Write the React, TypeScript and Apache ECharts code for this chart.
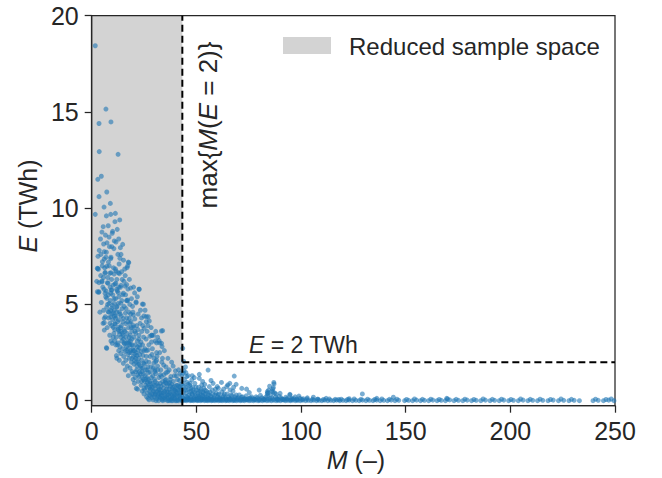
import React, { useEffect, useRef } from "react";
import * as echarts from "echarts";

// ---------- axis / tick values ----------
const xTicks = [0, 50, 100, 150, 200, 250];
const yTicks = [0, 5, 10, 15, 20];
const X_MIN = 0;
const X_MAX = 250;
const Y_MIN = -0.26;
const Y_MAX = 20;
const M_MAX = 43.3; // max{M(E = 2)}
const E_LEVEL = 2; // E = 2 TWh

// ---------- scatter data [M, E] ----------
const highE: number[][] = [
  [1.7, 18.44], [6.8, 15.15], [3.5, 14.4], [9.2, 14.48], [3.6, 12.94], [12.6, 12.8], [4.6, 11.66], [2.9, 11.5],
  [7.2, 10.84], [3.5, 10.6], [8.9, 10.25], [5.9, 10.06], [1.7, 9.68], [7.0, 9.6], [9.1, 9.68], [11.3, 9.73],
  [13.4, 9.39], [11.1, 9.3], [5.5, 9.04], [7.9, 9.09], [10.0, 8.8], [4.9, 8.76], [9.8, 8.7], [11.6, 8.24],
  [14.8, 8.12], [5.7, 8.14], [13.7, 7.95], [3.6, 7.81], [7.0, 7.71], [9.1, 7.38], [6.0, 7.36], [17.5, 7.2],
  [13.5, 7.4], [4.4, 7.6], [6.0, 7.74], [6.8, 7.45], [9.2, 7.45], [5.1, 7.22], [17.7, 7.17], [17.2, 7.0],
  [8.3, 8.5], [12.2, 8.9], [10.6, 7.9], [8.5, 8.0], [12.5, 7.6], [15.2, 7.3], [4.2, 8.4],
  [6.6, 8.6], [9.6, 8.0], [10.8, 8.3], [7.3, 8.2], [12.9, 8.4], [14.0, 7.6], [3.0, 7.5], [8.0, 7.2],
];

const midE: number[][] = [
  [7.2, 6.98], [2.7, 6.88], [16.9, 6.91], [11.3, 6.84], [15.8, 6.84], [2.9, 6.86], [6.4, 6.67], [9.2, 6.65],
  [11.6, 6.74], [13.2, 6.6], [6.4, 6.62], [8.7, 6.62], [10.7, 6.58], [12.7, 6.65], [4.9, 6.22], [7.5, 6.13],
  [11.1, 6.06], [13.7, 5.89], [15.9, 5.96], [18.6, 5.85], [22.7, 5.79], [3.5, 5.66], [9.6, 5.75], [7.2, 5.32],
  [10.7, 5.3], [17.2, 5.23], [21.2, 5.09], [24.2, 5.02], [12.7, 5.06], [4.9, 6.17], [7.8, 6.1], [11.5, 6.1],
  [14.0, 5.99], [16.7, 6.03], [5.9, 5.79], [9.4, 5.75], [11.9, 5.79], [3.3, 5.63], [6.4, 5.58], [9.1, 5.58],
  [12.7, 5.61], [15.1, 5.58], [6.7, 5.4], [8.3, 5.06], [10.7, 5.06], [13.9, 5.06], [17.0, 5.19], [21.2, 5.13],
  [7.2, 4.85], [9.6, 4.82], [11.9, 4.85], [14.5, 4.78], [16.4, 4.78], [7.9, 4.62], [10.3, 4.57], [13.2, 4.61],
  [19.9, 4.45], [6.5, 4.36], [9.1, 4.36], [11.3, 4.28], [15.1, 4.28], [18.0, 4.28], [6.0, 4.05], [8.7, 4.02],
  [11.1, 3.98], [18.3, 4.02], [23.1, 4.02], [27.5, 4.14], [10.3, 3.81], [12.7, 3.81], [19.9, 3.81], [25.1, 3.76],
  [5.4, 4.02], [26.1, 4.36], [33.3, 3.62], [27.0, 4.36], [24.7, 5.01], [22.6, 5.79], [17.3, 5.8], [3.2, 6.83],
  [2.7, 5.66], [3.5, 6.13], [6.0, 4.28], [6.0, 3.67], [33.9, 3.64], [26.1, 4.1],
  [8.9, 5.2], [9.9, 4.95], [10.8, 4.7], [11.6, 4.4], [12.1, 4.9], [12.9, 4.2], [13.6, 4.5], [14.2, 3.9],
  [14.9, 4.1], [15.6, 3.7], [16.3, 4.0], [16.9, 3.5], [17.6, 3.8], [18.4, 3.4], [19.1, 3.6], [20.2, 3.3],
  [21.0, 3.5], [21.8, 3.1], [22.6, 3.4], [23.5, 3.05], [13.0, 5.4], [14.4, 5.2], [15.5, 4.9], [16.1, 4.55],
  [17.8, 4.6], [18.8, 4.1], [19.5, 4.9], [20.6, 4.25], [21.5, 3.9], [22.2, 4.5], [23.9, 3.6], [24.8, 3.3],
  [26.0, 3.2], [27.8, 3.35], [28.6, 3.05], [29.5, 3.4], [30.4, 3.1], [31.5, 3.3], [32.4, 3.0], [9.5, 6.3],
  [10.2, 6.0], [8.0, 5.5], [12.2, 5.7], [14.6, 6.3], [16.2, 5.5], [19.0, 5.3], [20.5, 5.6], [7.4, 3.8],
  [8.6, 3.4], [9.2, 3.1], [10.6, 3.5], [11.8, 3.3], [12.5, 3.0], [13.3, 3.45], [5.7, 4.7], [4.6, 5.1],
  [3.9, 4.6], [8.1, 4.3], [23.8, 4.3], [25.5, 4.7], [28.4, 3.8], [30.6, 3.6],
  [14.0, 3.3], [14.7, 3.5], [15.2, 3.2], [15.8, 3.6], [17.9, 3.3], [19.2, 3.2], [11.0, 3.7], [13.0, 3.6],
  [9.5, 3.9], [8.2, 4.6], [10.0, 4.2], [12.0, 4.6], [14.1, 4.4], [16.7, 4.3], [18.6, 4.5], [20.0, 3.9],
  [22.0, 3.7], [24.4, 3.9], [26.5, 3.6], [10.3, 3.3],
  [6.2, 6.9], [7.7, 6.4], [8.4, 7.0], [10.4, 6.9], [12.0, 6.3], [13.1, 7.1], [14.3, 6.7], [15.4, 6.2],
  [5.3, 5.9], [6.9, 5.7], [8.8, 5.9], [10.1, 5.5], [11.4, 5.3], [12.9, 5.9], [14.8, 5.5], [16.6, 5.2],
  [18.2, 5.0], [19.7, 4.6], [7.6, 5.0], [9.0, 4.7], [10.9, 4.4], [12.4, 4.1], [13.8, 3.8], [15.0, 3.4],
  [9.7, 4.5], [11.2, 4.0], [12.6, 3.7], [14.0, 3.6], [17.1, 4.1], [18.9, 3.8], [20.7, 3.6], [22.5, 3.2],
  [4.3, 6.5], [5.0, 7.0], [2.4, 6.2], [5.6, 6.4], [16.0, 6.5], [18.0, 6.3], [20.0, 5.9], [21.8, 5.4],
  [23.3, 4.7], [25.0, 4.4], [26.8, 3.9], [28.7, 3.4], [31.0, 3.0], [24.3, 2.9],
];

const lowE: number[][] = [
  [7.0, 2.75], [9.8, 2.98], [33.6, 2.81], [32.2, 3.12], [26.9, 2.63], [22.1, 2.63], [34.4, 1.85], [30.1, 1.51],
  [21.3, 0.64], [25.3, 0.56], [26.9, 0.12], [29.3, 0.04], [33.4, 2.98], [31.2, 2.31], [7.2, 2.72], [11.8, 2.34],
  [15.1, 1.94], [19.3, 1.51], [30.6, 2.03], [35.8, 0.9], [42.2, 1.42], [43.5, 2.72],
  [12.3, 2.9], [12.9, 2.6], [13.5, 2.8], [13.9, 2.45], [14.4, 3.1], [14.8, 2.7], [15.3, 2.3], [15.7, 2.95],
  [12.0, 2.2], [13.2, 2.1], [11.5, 2.9], [11.0, 3.1],
  [15.9, 2.55], [16.3, 2.1], [16.6, 2.8], [17.0, 1.8], [17.3, 2.4], [17.7, 3.0], [18.0, 2.2], [18.3, 1.7],
  [18.7, 2.6], [19.0, 2.0], [19.4, 2.9], [19.7, 1.4], [16.0, 1.6], [17.5, 1.3], [18.5, 3.1], [19.9, 2.3],
  [16.5, 3.0], [17.2, 2.7], [18.1, 2.9], [18.9, 2.5], [19.6, 2.7], [15.5, 3.0], [16.2, 3.3], [17.4, 3.1],
  [18.7, 2.9], [19.9, 2.6], [16.8, 2.6], [18.0, 2.5], [19.2, 2.2],
  [20.2, 1.9], [20.5, 2.6], [20.8, 1.2], [21.1, 2.2], [21.5, 1.6], [21.8, 2.8], [22.2, 1.0], [22.5, 1.9],
  [22.9, 2.4], [23.2, 1.4], [23.6, 0.8], [23.9, 2.1], [24.3, 1.7], [24.6, 1.1], [24.9, 2.6], [20.4, 0.9],
  [21.9, 0.6], [23.0, 2.9], [24.1, 0.5], [22.0, 1.35], [20.7, 2.4], [21.3, 2.0], [22.4, 2.2], [23.3, 1.8],
  [24.0, 1.5], [24.8, 1.95], [21.6, 2.35], [23.7, 2.55], [20.9, 2.9], [22.8, 2.75], [24.5, 2.35],
  [21.2, 2.5], [22.3, 2.0], [23.5, 1.7], [24.7, 1.4], [20.4, 2.1], [21.6, 1.8], [22.8, 1.5], [24.0, 1.2],
  [19.8, 1.1], [21.0, 1.5], [22.6, 1.25], [23.9, 1.0],
  [25.2, 1.9], [25.5, 1.3], [25.8, 0.8], [26.1, 2.3], [26.4, 1.6], [26.7, 0.4], [27.0, 1.1], [27.3, 2.0],
  [27.6, 0.7], [27.9, 1.5], [28.2, 0.25], [28.5, 1.2], [28.8, 2.4], [29.1, 0.9], [29.4, 1.7], [29.7, 0.5],
  [30.0, 1.1], [25.4, 2.7], [26.2, 0.2], [27.4, 0.05], [28.0, 0.9], [28.9, 0.15], [29.8, 2.2], [26.8, 1.75],
  [25.0, 0.35], [25.6, 1.6], [26.3, 1.2], [27.1, 1.45], [27.8, 1.0], [28.6, 0.7], [29.2, 1.3], [29.9, 0.8],
  [26.0, 2.05], [28.3, 1.75], [27.3, 2.9], [29.0, 2.7], [25.9, 1.1], [27.0, 0.85], [28.1, 0.6], [29.3, 0.45],
  [25.2, 1.0], [26.4, 0.7], [27.6, 0.5], [28.8, 0.35], [26.1, 2.6], [27.9, 2.3], [29.7, 1.95], [25.1, 0.65],
  [26.6, 0.95], [27.7, 0.3], [29.0, 0.7], [28.7, 3.4],
  [30.3, 0.3], [30.6, 1.4], [30.9, 0.8], [31.2, 0.1], [31.5, 1.8], [31.8, 0.55], [32.1, 1.2], [32.4, 0.2],
  [32.7, 0.9], [33.0, 1.6], [33.3, 0.4], [33.6, 0.05], [33.9, 1.0], [34.2, 0.65], [34.5, 1.35], [34.8, 0.15],
  [31.0, 2.1], [32.5, 2.5], [33.8, 2.2], [30.7, 0.0], [32.0, 0.0], [34.0, 0.0], [31.6, 0.35], [33.1, 0.75],
  [30.5, 0.6], [31.3, 0.9], [32.3, 0.6], [33.2, 0.3], [34.1, 0.4], [30.2, 1.6], [32.8, 1.35], [31.0, 2.5],
  [33.5, 2.0], [30.4, 0.35], [31.6, 0.2], [32.7, 0.15], [33.9, 0.1], [30.0, 0.2], [31.2, 0.45], [32.4, 0.4],
  [33.6, 0.25], [34.8, 0.45], [31.5, 1.6], [33.3, 1.25], [30.3, 1.0], [31.9, 0.75], [33.0, 0.55], [34.3, 0.85],
  [34.7, 2.6],
  [35.1, 0.5], [35.4, 1.1], [35.7, 0.2], [36.0, 0.75], [36.3, 1.5], [36.6, 0.3], [36.9, 0.0], [37.2, 0.95],
  [37.5, 0.45], [37.8, 1.25], [38.1, 0.1], [38.4, 0.6], [38.7, 0.0], [39.0, 1.0], [39.3, 0.35], [39.6, 0.75],
  [39.9, 0.0], [40.2, 0.5], [40.5, 1.3], [40.8, 0.2], [41.1, 0.8], [41.4, 0.0], [41.7, 0.4], [42.0, 1.05],
  [42.3, 0.15], [42.6, 0.6], [42.9, 0.0], [43.1, 0.3], [35.5, 1.75], [37.0, 1.6], [38.9, 1.8], [40.0, 1.55],
  [41.5, 1.6], [36.2, 0.0], [38.0, 0.0], [40.6, 0.0], [35.0, 0.25], [36.1, 0.45], [37.3, 0.2], [38.3, 0.35],
  [39.4, 0.15], [40.4, 0.3], [41.3, 0.55], [42.4, 0.35], [35.2, 0.95], [37.6, 0.75], [39.7, 0.55], [35.5, 1.45],
  [37.5, 1.1], [39.5, 1.3], [41.0, 1.1], [42.8, 0.85], [43.0, 1.3], [35.1, 0.05], [36.3, 0.1], [37.4, 0.05],
  [38.6, 0.15], [39.8, 0.1], [41.0, 0.05], [42.2, 0.1], [36.0, 0.3], [37.2, 0.4], [38.4, 0.25], [39.6, 0.3],
  [40.8, 0.4], [42.0, 0.25], [35.1, 1.05], [36.9, 0.9], [38.7, 0.7], [40.5, 0.8], [42.3, 0.7], [35.8, 0.6],
  [37.1, 0.6], [38.2, 0.85], [39.3, 0.55], [40.7, 0.6], [41.8, 0.75], [43.0, 0.55], [36.4, 2.2], [38.2, 2.0],
];

const tailE: number[][] = [
  [45.4, 1.25], [51.4, 1.37], [51.4, 1.16], [55.6, 1.59], [68.1, 1.28], [87.1, 0.87], [86.5, 0.61], [60.0, 0.73],
  [64.5, 0.73], [43.8, 1.42], [65.0, 0.82], [86.8, 0.68], [75.3, 0.42], [71.7, 0.64], [66.1, 0.56], [60.5, 0.64],
  [56.2, 0.73], [52.6, 0.82], [47.8, 1.08], [47.0, 0.9], [83.9, 0.38], [90.0, 0.38], [94.7, 0.33], [99.0, 0.24],
  [105.9, 0.18], [83.9, 0.47], [94.7, 0.3], [129.3, 0.35], [136.2, 0.12], [144.1, 0.18], [169.6, 0.12],
  [43.6, 0.9], [44.0, 0.5], [44.3, 1.1], [44.6, 0.25], [44.9, 0.7], [45.2, 0.4], [45.6, 0.95], [45.9, 0.15],
  [46.2, 0.6], [46.5, 0.3], [46.8, 0.8], [47.2, 0.2], [47.5, 0.5], [47.9, 0.35], [48.2, 0.7], [48.6, 0.1],
  [48.9, 0.45], [49.3, 0.9], [49.6, 0.25], [50.0, 0.55], [50.4, 0.15], [50.8, 0.4], [51.1, 0.7], [51.5, 0.2],
  [51.9, 0.5], [52.3, 0.3], [52.7, 0.1], [53.1, 0.45], [53.5, 0.65], [53.9, 0.2], [54.3, 0.35], [54.8, 0.5],
  [55.3, 0.15], [55.8, 0.3], [56.4, 0.45], [57.0, 0.2], [57.6, 0.55], [58.2, 0.1], [58.8, 0.3], [59.4, 0.4],
  [60.1, 0.2], [60.8, 0.35], [61.5, 0.1], [62.2, 0.45], [63.0, 0.25], [63.8, 0.15], [64.7, 0.35], [65.6, 0.1],
  [66.6, 0.3], [67.5, 0.5], [68.4, 0.2], [69.4, 0.12], [70.5, 0.3], [71.5, 0.18], [72.6, 0.08], [73.8, 0.25],
  [75.0, 0.1], [76.4, 0.2], [77.8, 0.06], [79.2, 0.15], [80.6, 0.28], [82.0, 0.1], [83.2, 0.2], [84.5, 0.55],
  [85.5, 0.3], [86.2, 0.15], [87.4, 0.4], [88.5, 0.1], [89.6, 0.22], [91.2, 0.08], [92.8, 0.18], [95.5, 0.12],
  [97.2, 0.2], [101.0, 0.1], [103.0, 0.15], [108.0, 0.08], [112.0, 0.12], [118.0, 0.06], [123.0, 0.1],
  [44.1, 1.55], [46.0, 1.3], [49.0, 1.2], [53.0, 1.0], [58.0, 0.9], [62.0, 0.95], [69.0, 0.85], [74.0, 0.6],
  [80.0, 0.55], [44.8, 1.75], [43.9, 2.05],
  [43.7, 0.15], [44.2, 0.75], [44.7, 0.05], [45.1, 0.55], [45.5, 0.2], [46.0, 0.85], [46.4, 0.1], [46.9, 0.45],
  [47.3, 0.65], [47.7, 0.05], [48.1, 0.3], [48.5, 0.55], [49.0, 0.15], [49.4, 0.35], [49.8, 0.7], [50.2, 0.05],
  [50.7, 0.25], [51.0, 0.5], [51.4, 0.1], [51.8, 0.3], [52.2, 0.6], [52.6, 0.05], [53.0, 0.25], [53.4, 0.4],
  [53.8, 0.1], [54.2, 0.55], [54.6, 0.2], [55.1, 0.05], [55.6, 0.4], [56.1, 0.1], [56.7, 0.25], [57.3, 0.05],
  [57.9, 0.35], [58.5, 0.15], [59.1, 0.6], [59.8, 0.05], [60.4, 0.3], [61.1, 0.15], [61.8, 0.05], [62.6, 0.2],
  [63.4, 0.35], [64.3, 0.05], [65.2, 0.2], [66.1, 0.1], [67.0, 0.25], [68.0, 0.05], [69.0, 0.3], [70.0, 0.15],
  [71.1, 0.05], [72.1, 0.2], [73.2, 0.1], [74.4, 0.05], [75.7, 0.15], [77.1, 0.1], [78.5, 0.2], [79.9, 0.05],
  [81.3, 0.15], [82.7, 0.05], [84.0, 0.25], [85.1, 0.1], [86.6, 0.45], [87.8, 0.2], [89.0, 0.05], [90.6, 0.15],
  [92.0, 0.05], [93.5, 0.1], [94.9, 0.05], [96.5, 0.1], [98.0, 0.05], [99.5, 0.12], [85.0, 0.75], [87.0, 0.95],
  [86.0, 0.5], [88.0, 0.35], [84.2, 0.4], [67.8, 0.7], [66.0, 0.9], [63.0, 0.6], [57.0, 1.05], [54.0, 0.85],
  [48.0, 1.3], [45.0, 1.45],
];

const baseE: number[][] = [
  [43.5, 0.0], [44.4, 0.03], [45.3, 0.0], [46.1, 0.05], [47.0, 0.0], [47.8, 0.02], [48.7, 0.0], [49.5, 0.04],
  [50.4, 0.0], [51.2, 0.02], [52.1, 0.0], [52.9, 0.05], [53.8, 0.0], [54.6, 0.02], [55.5, 0.0], [56.3, 0.03],
  [57.2, 0.0], [58.0, 0.02], [58.9, 0.0], [59.7, 0.04], [60.6, 0.0], [61.4, 0.02], [62.3, 0.0], [63.1, 0.03],
  [64.0, 0.0], [64.8, 0.02], [65.7, 0.0], [66.5, 0.04], [67.4, 0.0], [68.2, 0.02], [69.1, 0.0], [70.0, 0.03],
  [71.0, 0.0], [72.0, 0.02], [73.0, 0.0], [74.1, 0.04], [75.2, 0.0], [76.2, 0.02], [77.3, 0.0], [78.4, 0.03],
  [79.5, 0.0], [80.5, 0.02], [81.6, 0.0], [82.6, 0.04], [83.7, 0.0], [84.8, 0.02], [85.9, 0.0], [87.0, 0.03],
  [88.1, 0.0], [89.2, 0.02], [90.3, 0.0], [91.5, 0.04], [92.6, 0.0], [93.8, 0.02], [95.0, 0.0], [96.1, 0.03],
  [97.3, 0.0], [98.5, 0.02], [99.7, 0.0], [100.9, 0.03], [102.2, 0.0], [103.5, 0.02], [104.8, 0.0], [106.1, 0.03],
  [107.4, 0.0], [108.7, 0.02], [110.0, 0.0], [111.4, 0.03], [112.8, 0.0], [114.2, 0.02], [115.6, 0.0], [117.0, 0.03],
  [118.5, 0.0], [120.0, 0.02], [121.5, 0.0], [123.0, 0.03], [124.6, 0.0], [126.2, 0.02], [127.8, 0.0], [129.4, 0.03],
  [131.0, 0.0], [132.7, 0.02], [134.4, 0.0], [136.1, 0.03], [137.8, 0.0], [139.5, 0.02], [141.3, 0.0], [143.1, 0.03],
  [144.9, 0.0], [146.7, 0.02], [149.5, 0.0], [151.4, 0.02], [153.3, 0.0], [155.2, 0.03], [157.1, 0.0], [159.0, 0.02],
  [161.0, 0.0], [163.0, 0.03], [165.0, 0.0], [167.0, 0.02], [169.0, 0.0], [171.0, 0.04], [173.1, 0.0], [175.2, 0.02],
  [177.3, 0.0], [179.4, 0.03], [181.5, 0.0], [183.7, 0.02], [185.9, 0.0], [188.1, 0.03], [190.3, 0.0], [192.5, 0.02],
  [194.7, 0.0], [196.9, 0.03], [199.2, 0.0], [201.5, 0.02], [203.8, 0.0], [206.1, 0.03], [208.4, 0.0], [210.7, 0.02],
  [213.0, 0.0], [215.5, 0.02], [218.0, 0.0], [220.5, 0.03], [223.0, 0.0], [225.5, 0.02], [228.0, 0.0], [230.5, 0.02],
  [233.0, 0.0], [239.5, 0.0], [242.0, 0.02], [244.5, 0.0], [247.0, 0.03], [249.5, 0.0],
];

const baseE2: number[][] = [
  [44.0, 0.08], [45.8, 0.06], [47.4, 0.09], [49.1, 0.07], [50.8, 0.08], [52.5, 0.06], [54.2, 0.09], [55.9, 0.07],
  [57.6, 0.08], [59.3, 0.06], [61.0, 0.09], [62.7, 0.07], [64.4, 0.08], [66.1, 0.06], [67.8, 0.09], [69.6, 0.07],
  [71.5, 0.08], [73.5, 0.06], [75.7, 0.09], [77.8, 0.07], [80.0, 0.08], [82.1, 0.06], [84.3, 0.09], [86.5, 0.07],
  [88.6, 0.08], [90.9, 0.06], [93.2, 0.09], [95.6, 0.07], [97.9, 0.08], [100.3, 0.06], [102.8, 0.09], [105.4, 0.07],
  [108.0, 0.08], [110.7, 0.06], [113.5, 0.09], [116.3, 0.07], [119.2, 0.08], [122.2, 0.06], [125.4, 0.09], [128.6, 0.07],
  [131.8, 0.08], [135.2, 0.06], [138.6, 0.09], [142.2, 0.07], [145.8, 0.08], [150.4, 0.06], [154.2, 0.09], [158.0, 0.07],
  [162.0, 0.08], [166.0, 0.06], [170.0, 0.09], [174.1, 0.07], [178.3, 0.08], [182.6, 0.06], [187.0, 0.09], [191.4, 0.07],
  [195.8, 0.08], [200.3, 0.06], [204.9, 0.09], [209.5, 0.07], [214.2, 0.08], [219.2, 0.06], [224.2, 0.09], [229.2, 0.07],
  [240.7, 0.08], [245.7, 0.06], [248.2, 0.09],
];

const FONT = "'Liberation Sans', Arial, Helvetica, sans-serif";
const INK = "#262626";
const POINT_COLOR = "#1f77b4";
const SHADE_COLOR = "#d3d3d3";

export default function App() {
  const ref = useRef<HTMLDivElement>(null);

  useEffect(() => {
    if (!ref.current) return;
    const chart = echarts.init(ref.current, undefined, { renderer: "svg" });
    const points = [...highE, ...midE, ...lowE, ...tailE, ...baseE, ...baseE2];

    const option: any = {
      animation: false,
      backgroundColor: "#ffffff",
      textStyle: { fontFamily: FONT },
      grid: {
        left: 91.7,
        top: 15.7,
        width: 523.3,
        height: 390,
        show: true,
        backgroundColor: "transparent",
        borderColor: INK,
        borderWidth: 1.25,
        z: 0,
      },
      xAxis: {
        type: "value",
        min: X_MIN,
        max: X_MAX,
        interval: 50,
        axisLine: { show: true, onZero: false, lineStyle: { color: INK, width: 1.25 } },
        axisTick: { show: true, inside: false, length: 7, lineStyle: { color: INK, width: 1.25 }, customValues: xTicks },
        axisLabel: { fontSize: 25, color: INK, margin: 13, fontFamily: FONT, customValues: xTicks },
        splitLine: { show: false },
      },
      yAxis: {
        type: "value",
        min: Y_MIN,
        max: Y_MAX,
        axisLine: { show: true, onZero: false, lineStyle: { color: INK, width: 1.25 } },
        axisTick: { show: true, inside: false, length: 7, lineStyle: { color: INK, width: 1.25 }, customValues: yTicks },
        axisLabel: { fontSize: 25, color: INK, margin: 13, fontFamily: FONT, customValues: yTicks },
        splitLine: { show: false },
      },
      series: [
        {
          type: "custom",
          name: "Reduced sample space",
          z: -1,
          silent: true,
          clip: true,
          itemStyle: { color: SHADE_COLOR },
          encode: { x: [0, 2], y: [1, 3] },
          data: [[X_MIN, Y_MIN, M_MAX, Y_MAX]],
          renderItem: (_params: any, api: any) => {
            const p0 = api.coord([api.value(0), api.value(3)]);
            const p1 = api.coord([api.value(2), api.value(1)]);
            return {
              type: "rect",
              shape: { x: p0[0], y: p0[1], width: p1[0] - p0[0], height: p1[1] - p0[1] },
              style: { fill: SHADE_COLOR },
            };
          },
        },
        {
          type: "scatter",
          name: "samples",
          z: 2,
          symbolSize: 5,
          itemStyle: { color: POINT_COLOR, opacity: 0.6 },
          data: points,
        },
        {
          type: "line",
          name: "max M line",
          z: 3,
          symbol: "none",
          silent: true,
          lineStyle: { color: "#000000", width: 2, type: [7, 4] },
          data: [[M_MAX, Y_MIN], [M_MAX, Y_MAX]],
        },
        {
          type: "line",
          name: "E level line",
          z: 3,
          symbol: "none",
          silent: true,
          lineStyle: { color: "#000000", width: 2, type: [7, 4] },
          data: [[M_MAX, E_LEVEL], [X_MAX, E_LEVEL]],
        },
      ],
      graphic: [
        {
          type: "rect",
          left: 283,
          top: 37,
          shape: { width: 48, height: 17 },
          style: { fill: SHADE_COLOR },
        },
        {
          type: "text",
          x: 349,
          y: 46,
          style: {
            text: "Reduced sample space",
            fontSize: 24,
            fontFamily: FONT,
            fill: INK,
            textAlign: "left",
            textVerticalAlign: "middle",
          },
        },
        {
          type: "text",
          x: 208,
          y: 125,
          rotation: Math.PI / 2,
          style: {
            text: "max{{i|M}({i|E} = 2)}",
            fontSize: 26,
            fontFamily: FONT,
            fill: INK,
            textAlign: "center",
            textVerticalAlign: "middle",
            rich: { i: { fontStyle: "italic", fontSize: 26, fontFamily: FONT, fill: INK } },
          },
        },
        {
          type: "text",
          x: 249,
          y: 345,
          style: {
            text: "{i|E} = 2 TWh",
            fontSize: 23,
            fontFamily: FONT,
            fill: INK,
            textAlign: "left",
            textVerticalAlign: "middle",
            rich: { i: { fontStyle: "italic", fontSize: 23, fontFamily: FONT, fill: INK } },
          },
        },
        {
          type: "text",
          x: 28,
          y: 206,
          rotation: Math.PI / 2,
          style: {
            text: "{i|E} (TWh)",
            fontSize: 25,
            fontFamily: FONT,
            fill: INK,
            textAlign: "center",
            textVerticalAlign: "middle",
            rich: { i: { fontStyle: "italic", fontSize: 25, fontFamily: FONT, fill: INK } },
          },
        },
        {
          type: "text",
          x: 356,
          y: 460,
          style: {
            text: "{i|M} (–)",
            fontSize: 25,
            fontFamily: FONT,
            fill: INK,
            textAlign: "center",
            textVerticalAlign: "middle",
            rich: { i: { fontStyle: "italic", fontSize: 25, fontFamily: FONT, fill: INK } },
          },
        },
      ],
    };

    chart.setOption(option);
    return () => chart.dispose();
  }, []);

  return (
    <div
      ref={ref}
      style={{ position: "fixed", left: 0, top: 0, width: 662, height: 478 }}
    />
  );
}
